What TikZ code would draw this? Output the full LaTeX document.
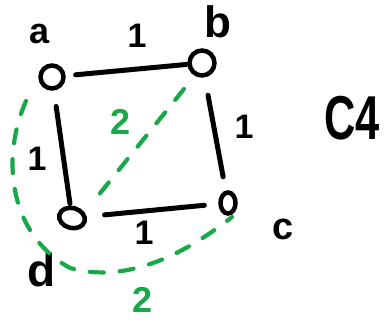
\documentclass[tikz,border=0pt]{standalone}
\usepackage{graphicx}
\usepackage{fontspec}
\setmainfont{Liberation Sans}
\usetikzlibrary{shapes.geometric}
\definecolor{hgreen}{RGB}{24,168,72}
\begin{document}
\begin{tikzpicture}[x=1pt,y=-1pt,
  vtx/.style={draw=black,line width=4.5pt,inner sep=0pt},
  edge/.style={draw=black,line width=5pt,line cap=round},
  gedge/.style={draw=hgreen,line width=4.2pt,line cap=round,dash pattern=on 14pt off 16pt},
  txt/.style={inner sep=0pt,text=black},
  wlbl/.style={font=\bfseries\fontsize{34}{34}\selectfont,text=black,inner sep=0pt},
  glbl/.style={font=\bfseries\fontsize{36}{36}\selectfont,text=hgreen,inner sep=0pt}]
\useasboundingbox (0,0) rectangle (385,321);
\node[vtx,circle,minimum size=23pt] (a) at (52,77) {};
\node[vtx,circle,minimum size=25pt] (b) at (202,63) {};
\node[vtx,ellipse,minimum width=15pt,minimum height=21pt] (c) at (228,203) {};
\node[vtx,ellipse,minimum width=26pt,minimum height=20pt,rotate=-15] (d) at (72,218) {};
\node[txt,font=\bfseries\fontsize{36}{36}\selectfont] (la) at (40,34) {a};
\node[txt,font=\bfseries\fontsize{44}{44}\selectfont] (lb) at (218,22) {b};
\node[txt,font=\bfseries\fontsize{38}{38}\selectfont] (lc) at (283,229) {c};
\node[txt,font=\bfseries\fontsize{46}{46}\selectfont] (ld) at (42,270) {d};
\node[txt] (cf) at (352,118) {\scalebox{0.7}[1]{\bfseries\fontsize{62}{62}\selectfont C4}};
\draw[edge,shorten <=10pt,shorten >=1pt] (a) -- (b);
\draw[edge,shorten <=18pt,shorten >=14pt] (b) -- (c);
\draw[edge,shorten <=16pt,shorten >=2pt] (a) -- (d);
\draw[edge,shorten <=18pt,shorten >=14pt] (d) -- (c);
\node[wlbl] (w1) at (137,36) {1};
\node[wlbl] (w2) at (244,127) {1};
\node[wlbl] (w3) at (37,159) {1};
\node[wlbl] (w4) at (144,233) {1};
\coordinate (g1) at (184,89);
\coordinate (g2) at (93,202);
\draw[gedge] (g1) -- (g2);
\node[glbl] (w5) at (121,122) {2};
\coordinate (h1) at (26,101);
\coordinate (h2) at (232,217);
\draw[gedge] (h1) .. controls (0,160) and (10,235) .. (70,268)
  .. controls (130,285) and (190,250) .. (h2);
\node[glbl] (w6) at (143,300) {2};
\end{tikzpicture}
\end{document}
